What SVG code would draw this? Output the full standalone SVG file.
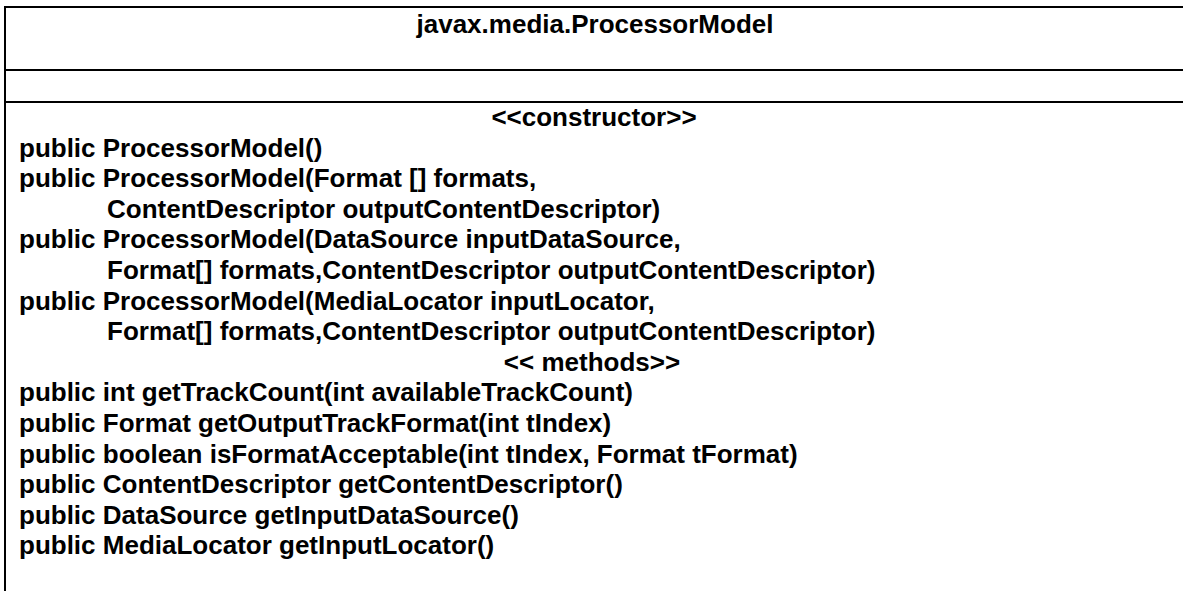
<svg xmlns="http://www.w3.org/2000/svg" width="1183" height="591" viewBox="0 0 1183 591">
<style>
.t{font-family:"Liberation Sans",Arial,sans-serif;font-weight:bold;font-size:26px;fill:#000}
.c{text-anchor:middle}
.ln{stroke:#000;stroke-width:2;fill:none}
</style>
<rect width="1183" height="591" fill="#fff"/>
<g id="class-ProcessorModel">
<path class="ln" d="M5,591 V7 H1183 M5,70 H1183 M5,102 H1183"/>
<text class="t c" x="595" y="33">javax.media.ProcessorModel</text>
<text class="t c" x="594" y="126">&lt;&lt;constructor&gt;&gt;</text>
<text class="t" x="19" y="156.6">public ProcessorModel()</text>
<text class="t" x="19" y="187.2">public ProcessorModel(Format [] formats,</text>
<text class="t" x="107" y="217.8">ContentDescriptor outputContentDescriptor)</text>
<text class="t" x="19" y="248.4">public ProcessorModel(DataSource inputDataSource,</text>
<text class="t" x="107" y="279">Format[] formats,ContentDescriptor outputContentDescriptor)</text>
<text class="t" x="19" y="309.6">public ProcessorModel(MediaLocator inputLocator,</text>
<text class="t" x="107" y="340.2">Format[] formats,ContentDescriptor outputContentDescriptor)</text>
<text class="t c" x="592" y="370.8">&lt;&lt; methods&gt;&gt;</text>
<text class="t" x="19" y="401.4">public int getTrackCount(int availableTrackCount)</text>
<text class="t" x="19" y="432">public Format getOutputTrackFormat(int tIndex)</text>
<text class="t" x="19" y="462.6">public boolean isFormatAcceptable(int tIndex, Format tFormat)</text>
<text class="t" x="19" y="493.2">public ContentDescriptor getContentDescriptor()</text>
<text class="t" x="19" y="523.8">public DataSource getInputDataSource()</text>
<text class="t" x="19" y="554.4">public MediaLocator getInputLocator()</text>
</g>
<g id="connectors"/>
</svg>
